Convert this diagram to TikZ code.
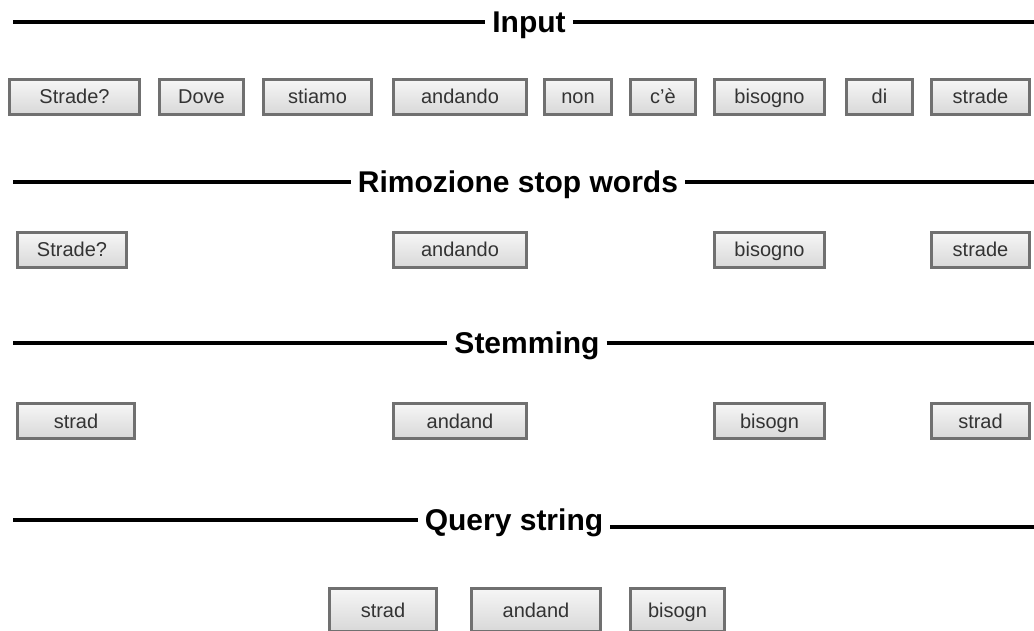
\documentclass[tikz,border=0pt]{standalone}
\usepackage{fontspec}
\setmainfont{Liberation Sans}
\usetikzlibrary{positioning}
\definecolor{btnedge}{RGB}{112,112,112}
\definecolor{btntop}{RGB}{246,246,246}
\definecolor{btnbot}{RGB}{216,216,216}
\definecolor{btntext}{RGB}{51,51,51}

\begin{document}
\begin{tikzpicture}
    [
        x=1pt, y=-1pt,
        word/.style={rectangle, draw=btnedge, line width=2.5pt, top color=btntop, bottom color=btnbot, minimum height=35pt, inner sep=0pt, text height=15pt, text depth=1pt, text=btntext, font=\fontsize{20}{24}\selectfont},
        heading/.style={inner xsep=7pt, inner ysep=0pt, anchor=base, font=\fontsize{30}{36}\selectfont\bfseries},
        rule/.style={line width=4pt, color=black},
    ]
        \useasboundingbox (0,0) rectangle (1034,631) ;
        \clip (0,0) rectangle (1034,631) ;
        % headings
        \node[heading] (input) at (529,32.5) {Input} ;
        \node[heading] (rimozione) at (518,192.5) {Rimozione stop words} ;
        \node[heading] (stemming) at (527,353.5) {Stemming} ;
        \node[heading] (query) at (514,530.5) {Query string} ;
        \coordinate (inL) at (13,22) ;
        \coordinate (inR) at (1034,22) ;
        \coordinate (rmL) at (13,182) ;
        \coordinate (rmR) at (1034,182) ;
        \coordinate (stL) at (13,343) ;
        \coordinate (stR) at (1034,343) ;
        \coordinate (qsL) at (13,520) ;
        \coordinate (qsR) at (1034,527) ;
        \draw[rule] (inL) -- (inL -| input.west) ;
        \draw[rule] (input.east |- inR) -- (inR) ;
        \draw[rule] (rmL) -- (rmL -| rimozione.west) ;
        \draw[rule] (rimozione.east |- rmR) -- (rmR) ;
        \draw[rule] (stL) -- (stL -| stemming.west) ;
        \draw[rule] (stemming.east |- stR) -- (stR) ;
        \draw[rule] (qsL) -- (qsL -| query.west) ;
        \draw[rule] (query.east |- qsR) -- (qsR) ;
        % input words
        \node[word, minimum width=130pt] (i1) at (74.5,97) {Strade?} ;
        \node[word, minimum width=84pt] (i2) at (201.5,97) {Dove} ;
        \node[word, minimum width=108pt] (i3) at (317.5,97) {stiamo} ;
        \node[word, minimum width=133pt] (i4) at (460,97) {andando} ;
        \node[word, minimum width=67pt] (i5) at (578,97) {non} ;
        \node[word, minimum width=65pt] (i6) at (663,97) {c'è} ;
        \node[word, minimum width=110pt] (i7) at (769.5,97) {bisogno} ;
        \node[word, minimum width=66pt] (i8) at (879.5,97) {di} ;
        \node[word, minimum width=98pt] (i9) at (980.5,97) {strade} ;
        % after stop words
        \node[word, minimum width=109pt] (r1) at (72,250) {Strade?} ;
        \node[word, minimum width=133pt] (r2) at (460,250) {andando} ;
        \node[word, minimum width=110pt] (r3) at (769.5,250) {bisogno} ;
        \node[word, minimum width=98pt] (r4) at (980.5,250) {strade} ;
        % stems
        \node[word, minimum width=117pt] (s1) at (76,421) {strad} ;
        \node[word, minimum width=133pt] (s2) at (460,421) {andand} ;
        \node[word, minimum width=110pt] (s3) at (769.5,421) {bisogn} ;
        \node[word, minimum width=98pt] (s4) at (980.5,421) {strad} ;
        % query
        \node[word, minimum width=107pt, minimum height=43pt] (q1) at (383,610) {strad} ;
        \node[word, minimum width=129pt, minimum height=43pt] (q2) at (536,610) {andand} ;
        \node[word, minimum width=94pt, minimum height=43pt] (q3) at (677.5,610) {bisogn} ;
    \end{tikzpicture}
\end{document}
